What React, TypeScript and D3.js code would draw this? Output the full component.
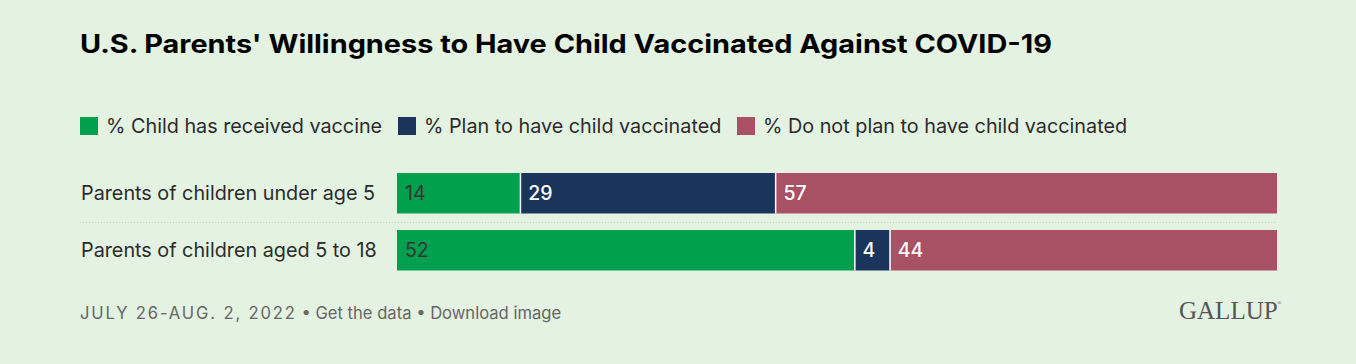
import React from "react";
import * as d3 from "d3";

const categories = ["Parents of children under age 5", "Parents of children aged 5 to 18"];
const seriesNames = ["% Child has received vaccine", "% Plan to have child vaccinated", "% Do not plan to have child vaccinated"];
const received = [14, 52];
const plan = [29, 4];
const notPlan = [57, 44];
const colors = ["#00a04e", "#1b345c", "#a95266"];
const labelColors = ["#333333", "#ffffff", "#ffffff"];

const W = 1356, H = 364;
const FONT = "Inter, 'Noto Sans', Roboto, sans-serif";

export default function App() {
  const series = [received, plan, notPlan];
  const x = d3.scaleLinear().domain([0, 100]).range([397, 1277]);
  const y = d3.scaleBand().domain(categories).range([161.6, 281.9]).paddingInner(0.29).paddingOuter(0.2);
  const stackData = categories.map((c, i) => ({ cat: c, s0: received[i], s1: plan[i], s2: notPlan[i] }));
  const stacked = d3.stack<any>().keys(["s0", "s1", "s2"])(stackData);
  const sepY = ((y(categories[0]) as number) + y.bandwidth() + (y(categories[1]) as number)) / 2;

  const legendX = [80, 398, 737];
  return (
    <div style={{ position: "fixed", left: 0, top: 0 }}>
      <svg width={W} height={H} style={{ display: "block", background: "#e3f2e1" }}>
        <rect width={W} height={H} fill="#e3f2e1" />
        <text x={80} y={52.5} fontFamily={FONT} fontWeight={700} fontSize={25.5} fill="#000" textLength={972} lengthAdjust="spacingAndGlyphs">
          U.S. Parents' Willingness to Have Child Vaccinated Against COVID-19
        </text>
        {seriesNames.map((n, i) => (
          <g key={n}>
            <rect x={legendX[i]} y={117} width={18} height={18} fill={colors[i]} />
            <text x={legendX[i] + 26} y={132.5} fontFamily={FONT} fontSize={19.8} fill="#2b2b2b">{n}</text>
          </g>
        ))}
        <line x1={80} x2={1277} y1={Math.round(sepY) + 0.5} y2={Math.round(sepY) + 0.5} stroke="#c4cfc3" strokeWidth={1} strokeDasharray="1,2" />
        {categories.map((c) => (
          <text key={c} x={81} y={(y(c) as number) + y.bandwidth() / 2 + 7} fontFamily={FONT} fontSize={19.8} fill="#2b2b2b">{c}</text>
        ))}
        {stacked.map((layer, si) => (
          <g key={si}>
            {layer.map((d, i) => {
              const x0 = x(d[0]);
              const x1 = x(d[1]);
              const yy = y(categories[i]) as number;
              return (
                <g key={i}>
                  <rect x={x0} y={yy} width={x1 - x0} height={y.bandwidth()} fill={colors[si]} />
                  {si > 0 && <rect x={x0 - 0.5} y={yy} width={1.5} height={y.bandwidth()} fill="#ffffff" />}
                  <text x={x0 + 8} y={yy + y.bandwidth() / 2 + 7} fontFamily={FONT} fontSize={19.5} fontWeight={si > 0 ? 500 : 400} fill={labelColors[si]}>{series[si][i]}</text>
                </g>
              );
            })}
          </g>
        ))}
        <text x={80} y={319.3} fontFamily={FONT} fontSize={16.6} fill="#666" letterSpacing={1.85}>
          JULY 26-AUG. 2, 2022
          <tspan letterSpacing={0}> • Get the data • Download image</tspan>
        </text>
        <text x={1179} y={319} fontFamily="'Liberation Serif', 'DejaVu Serif', serif" fontSize={25} fill="#555" letterSpacing={0}>GALLUP</text>
        <text x={1277} y={305} fontFamily="serif" fontSize={6} fill="#555">®</text>
      </svg>
    </div>
  );
}
